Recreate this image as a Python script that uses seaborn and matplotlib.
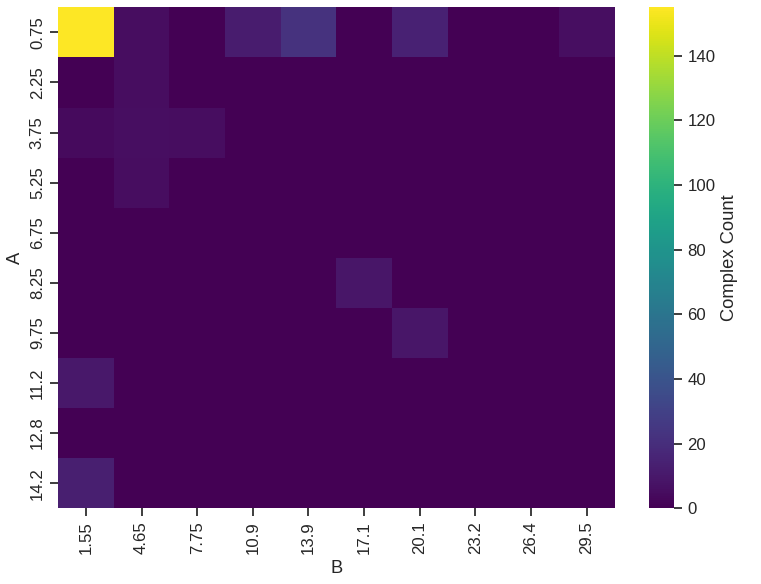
import matplotlib
matplotlib.use("Agg")
import matplotlib.pyplot as plt
import seaborn as sns
import pandas as pd
import numpy as np

sns.set_theme(style="ticks", font_scale=1.1)
plt.rcParams['font.family'] = ['Liberation Sans', 'DejaVu Sans']

a_labels = ["0.75", "2.25", "3.75", "5.25", "6.75", "8.25", "9.75", "11.2", "12.8", "14.2"]
b_labels = ["1.55", "4.65", "7.75", "10.9", "13.9", "17.1", "20.1", "23.2", "26.4", "29.5"]
counts = [
    [155, 5, 0, 12, 22, 0, 14, 0, 0, 6],
    [0, 5, 0, 0, 0, 0, 0, 0, 0, 0],
    [4, 6, 5, 0, 0, 0, 0, 0, 0, 0],
    [0, 5, 0, 0, 0, 0, 0, 0, 0, 0],
    [0, 0, 0, 0, 0, 0, 0, 0, 0, 0],
    [0, 0, 0, 0, 0, 9, 0, 0, 0, 0],
    [0, 0, 0, 0, 0, 0, 9, 0, 0, 0],
    [10, 0, 0, 0, 0, 0, 0, 0, 0, 0],
    [0, 0, 0, 0, 0, 0, 0, 0, 0, 0],
    [13, 0, 0, 0, 0, 0, 0, 0, 0, 0],
]
df = pd.DataFrame(counts, index=pd.Index(a_labels, name="A"), columns=pd.Index(b_labels, name="B"))

fig, ax = plt.subplots(figsize=(7.61, 5.84), dpi=100)
sns.heatmap(df, cmap="viridis", ax=ax, cbar_kws={"label": "Complex Count"})
ax.set_xticklabels(ax.get_xticklabels(), rotation=90)
ax.set_yticklabels(ax.get_yticklabels(), rotation=90, va="center")
fig.tight_layout(pad=0.4)
fig.savefig("out.png", dpi=100)
